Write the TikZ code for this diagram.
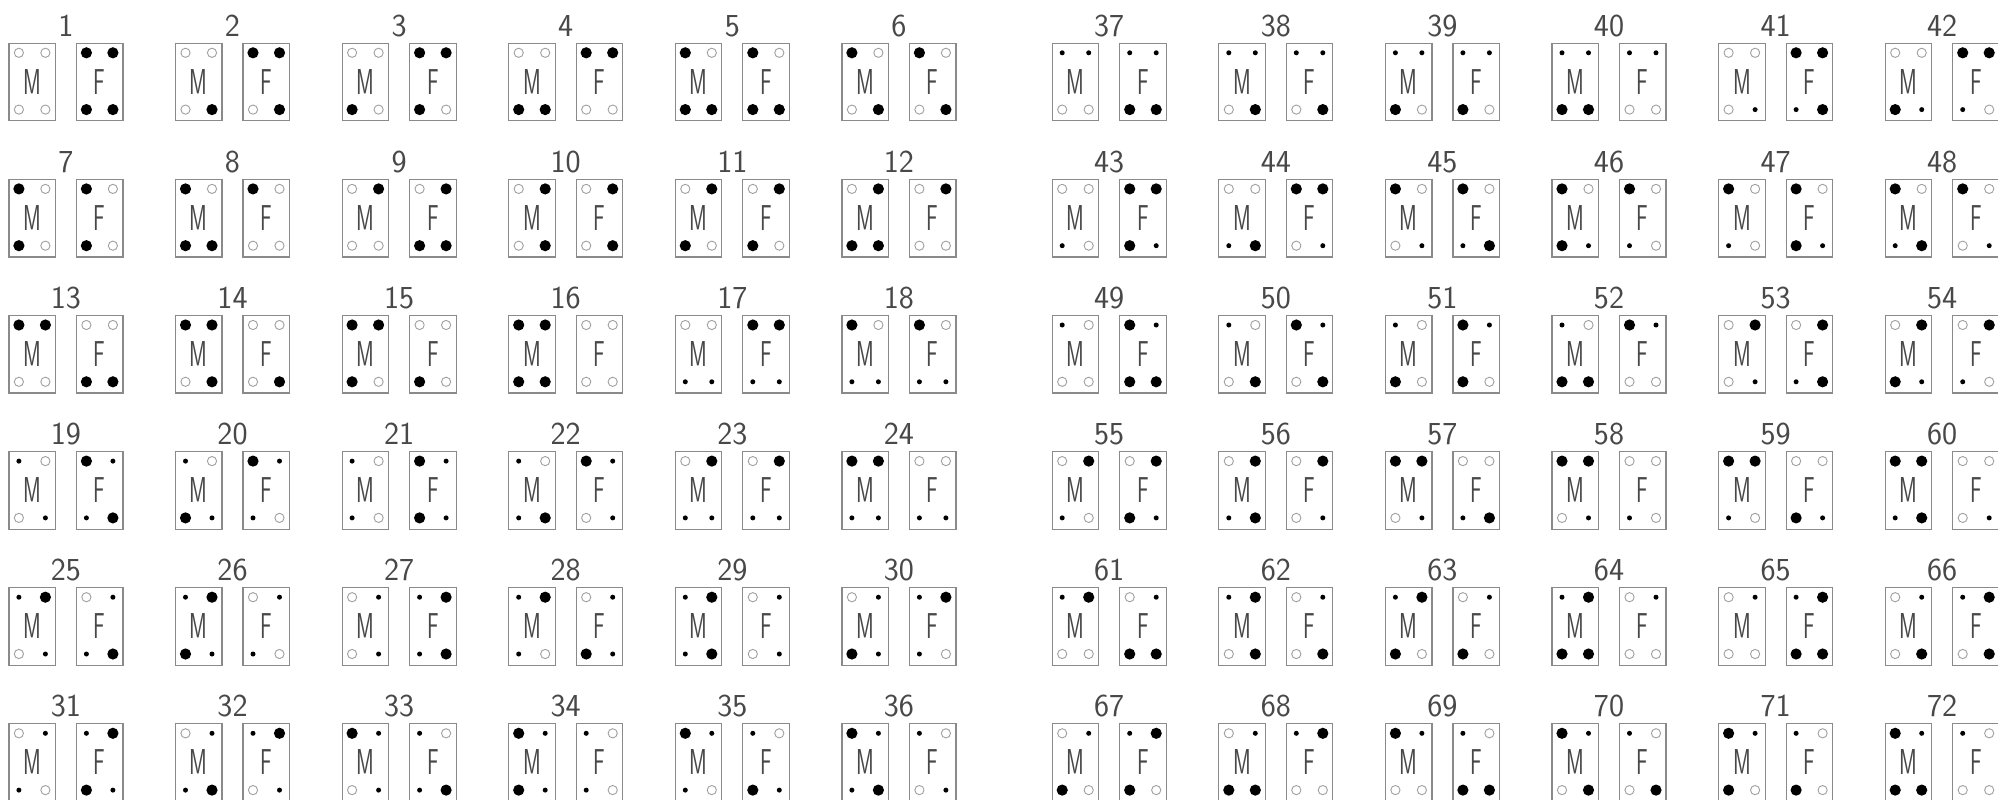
\documentclass[tikz,border=0pt]{standalone}
\usepackage{graphicx}
\definecolor{txtgray}{HTML}{484848}
\definecolor{boxgray}{HTML}{8A8A8A}
\definecolor{circgray}{HTML}{A0A0A0}
\tikzset{
  pbox/.style={draw=boxgray,line width=1.2pt},
  bigdot/.style={fill=black},
  smalldot/.style={fill=black},
  opencirc/.style={draw=circgray,line width=0.9pt},
  numlabel/.style={text=txtgray,font=\fontsize{32}{32}\selectfont\sffamily,inner sep=0pt,anchor=base},
  sexlabel/.style={text=txtgray,font=\fontsize{36}{36}\selectfont\sffamily,inner sep=0pt,anchor=center},
}
\newcommand\mkrB[1]{\fill[bigdot] #1 circle[radius=5.6];}
\newcommand\mkrd[1]{\fill[smalldot] #1 circle[radius=2.5];}
\newcommand\mkro[1]{\draw[opencirc] #1 circle[radius=4.6];}
\newcommand\sexbox[8]{%
  \draw[pbox] (#2,#3) rectangle ++(46.5,77.5);
  \node[sexlabel] (#1) at (#2+23.25,#3+38.5) {\scalebox{0.6}[1]{#4}};
  \csname mkr#5\endcsname{(#2+10,#3+9.5)}
  \csname mkr#6\endcsname{(#2+36.5,#3+9.5)}
  \csname mkr#7\endcsname{(#2+10,#3+66.3)}
  \csname mkr#8\endcsname{(#2+36.5,#3+66.3)}
}
\newcommand\pnl[9]{%
  \pgfmathtruncatemacro\pidx{mod(#1-1,36)}%
  \pgfmathtruncatemacro\pgrp{#1>36}%
  \pgfmathtruncatemacro\prow{div(\pidx,6)}%
  \pgfmathtruncatemacro\pcol{mod(\pidx,6)}%
  \pgfmathsetmacro\px{8.9+166.6*\pcol+1043.3*\pgrp}%
  \pgfmathsetmacro\py{43.3+136.1*\prow}%
  \node[numlabel] (n#1) at (\px+57,\py-7) {#1};
  \sexbox{m#1}{\px}{\py}{M}{#2}{#3}{#4}{#5}
  \sexbox{f#1}{\px+67.5}{\py}{F}{#6}{#7}{#8}{#9}
}
\begin{document}
\begin{tikzpicture}[x=1pt,y=-1pt]
\fill[white] (0,0) rectangle (1998,800);
\useasboundingbox (0,0) rectangle (1998,800);
\begin{scope}
\clip (0,0) rectangle (1998,800);
\pnl{1}{o}{o}{o}{o}{B}{B}{B}{B}
\pnl{2}{o}{o}{o}{B}{B}{B}{o}{B}
\pnl{3}{o}{o}{B}{o}{B}{B}{B}{o}
\pnl{4}{o}{o}{B}{B}{B}{B}{o}{o}
\pnl{5}{B}{o}{B}{B}{B}{o}{B}{B}
\pnl{6}{B}{o}{o}{B}{B}{o}{o}{B}
\pnl{7}{B}{o}{B}{o}{B}{o}{B}{o}
\pnl{8}{B}{o}{B}{B}{B}{o}{o}{o}
\pnl{9}{o}{B}{o}{o}{o}{B}{B}{B}
\pnl{10}{o}{B}{o}{B}{o}{B}{o}{B}
\pnl{11}{o}{B}{B}{o}{o}{B}{B}{o}
\pnl{12}{o}{B}{B}{B}{o}{B}{o}{o}
\pnl{13}{B}{B}{o}{o}{o}{o}{B}{B}
\pnl{14}{B}{B}{o}{B}{o}{o}{o}{B}
\pnl{15}{B}{B}{B}{o}{o}{o}{B}{o}
\pnl{16}{B}{B}{B}{B}{o}{o}{o}{o}
\pnl{17}{o}{o}{d}{d}{B}{B}{d}{d}
\pnl{18}{B}{o}{d}{d}{B}{o}{d}{d}
\pnl{19}{d}{o}{o}{d}{B}{d}{d}{B}
\pnl{20}{d}{o}{B}{d}{B}{d}{d}{o}
\pnl{21}{d}{o}{d}{o}{B}{d}{B}{d}
\pnl{22}{d}{o}{d}{B}{B}{d}{o}{d}
\pnl{23}{o}{B}{d}{d}{o}{B}{d}{d}
\pnl{24}{B}{B}{d}{d}{o}{o}{d}{d}
\pnl{25}{d}{B}{o}{d}{o}{d}{d}{B}
\pnl{26}{d}{B}{B}{d}{o}{d}{d}{o}
\pnl{27}{o}{d}{o}{d}{d}{B}{d}{B}
\pnl{28}{d}{B}{d}{o}{o}{d}{B}{d}
\pnl{29}{d}{B}{d}{B}{o}{d}{o}{d}
\pnl{30}{o}{d}{B}{d}{d}{B}{d}{o}
\pnl{31}{o}{d}{d}{o}{d}{B}{B}{d}
\pnl{32}{o}{d}{d}{B}{d}{B}{o}{d}
\pnl{33}{B}{d}{o}{d}{d}{o}{d}{B}
\pnl{34}{B}{d}{B}{d}{d}{o}{d}{o}
\pnl{35}{B}{d}{d}{o}{d}{o}{B}{d}
\pnl{36}{B}{d}{d}{B}{d}{o}{o}{d}
\pnl{37}{d}{d}{o}{o}{d}{d}{B}{B}
\pnl{38}{d}{d}{o}{B}{d}{d}{o}{B}
\pnl{39}{d}{d}{B}{o}{d}{d}{B}{o}
\pnl{40}{d}{d}{B}{B}{d}{d}{o}{o}
\pnl{41}{o}{o}{o}{d}{B}{B}{d}{B}
\pnl{42}{o}{o}{B}{d}{B}{B}{d}{o}
\pnl{43}{o}{o}{d}{o}{B}{B}{B}{d}
\pnl{44}{o}{o}{d}{B}{B}{B}{o}{d}
\pnl{45}{B}{o}{o}{d}{B}{o}{d}{B}
\pnl{46}{B}{o}{B}{d}{B}{o}{d}{o}
\pnl{47}{B}{o}{d}{o}{B}{o}{B}{d}
\pnl{48}{B}{o}{d}{B}{B}{o}{o}{d}
\pnl{49}{d}{o}{o}{o}{B}{d}{B}{B}
\pnl{50}{d}{o}{o}{B}{B}{d}{o}{B}
\pnl{51}{d}{o}{B}{o}{B}{d}{B}{o}
\pnl{52}{d}{o}{B}{B}{B}{d}{o}{o}
\pnl{53}{o}{B}{o}{d}{o}{B}{d}{B}
\pnl{54}{o}{B}{B}{d}{o}{B}{d}{o}
\pnl{55}{o}{B}{d}{o}{o}{B}{B}{d}
\pnl{56}{o}{B}{d}{B}{o}{B}{o}{d}
\pnl{57}{B}{B}{o}{d}{o}{o}{d}{B}
\pnl{58}{B}{B}{o}{d}{o}{o}{d}{o}
\pnl{59}{B}{B}{d}{o}{o}{o}{B}{d}
\pnl{60}{B}{B}{d}{B}{o}{o}{o}{d}
\pnl{61}{d}{B}{o}{o}{o}{d}{B}{B}
\pnl{62}{d}{B}{o}{B}{o}{d}{o}{B}
\pnl{63}{d}{B}{B}{o}{o}{d}{B}{o}
\pnl{64}{d}{B}{B}{B}{o}{d}{o}{o}
\pnl{65}{o}{d}{o}{o}{d}{B}{B}{B}
\pnl{66}{o}{d}{o}{B}{d}{B}{o}{B}
\pnl{67}{o}{d}{B}{o}{d}{B}{B}{o}
\pnl{68}{o}{d}{B}{B}{d}{B}{o}{o}
\pnl{69}{B}{d}{o}{o}{d}{o}{B}{B}
\pnl{70}{B}{d}{o}{B}{d}{o}{o}{B}
\pnl{71}{B}{d}{B}{o}{d}{o}{B}{o}
\pnl{72}{B}{d}{B}{B}{d}{o}{o}{o}
\end{scope}
\end{tikzpicture}
\end{document}
